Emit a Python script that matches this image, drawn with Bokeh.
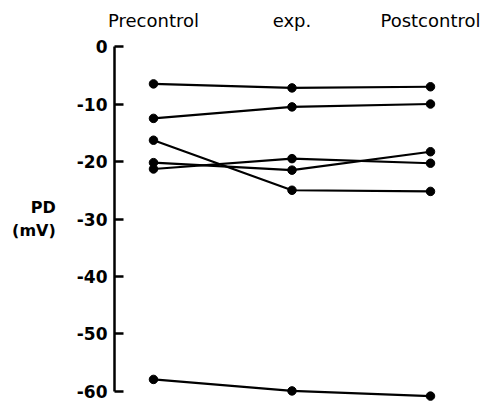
from bokeh.plotting import figure
from bokeh.models import Range1d, FixedTicker, ColumnDataSource
from bokeh.embed import file_html
from bokeh.resources import INLINE

conditions = ["Precontrol", "exp.", "Postcontrol"]
cond_x = [1, 2, 3]
y_ticks = [0, -10, -20, -30, -40, -50, -60]

# PD (mV) per preparation: precontrol, exp., postcontrol
precontrol = [-6.5, -12.5, -16.3, -20.2, -21.3, -57.9]
experiment = [-7.2, -10.5, -25.0, -21.5, -19.5, -59.9]
postcontrol = [-7.0, -10.0, -25.2, -18.3, -20.3, -60.8]

p = figure(width=493, height=401, output_backend="svg", toolbar_location=None,
           x_range=Range1d(0.7184, 3.455), y_range=Range1d(-61.74, 1.74),
           x_axis_location="above", min_border_left=114, min_border_right=0,
           min_border_top=36, min_border_bottom=0)
p.outline_line_color = None
p.grid.visible = False
p.background_fill_color = "white"
p.border_fill_color = "white"

for a, b, c in zip(precontrol, experiment, postcontrol):
    src = ColumnDataSource(dict(x=cond_x, y=[a, b, c]))
    p.line("x", "y", source=src, line_color="black", line_width=2.2)
    p.scatter("x", "y", source=src, size=8.5, fill_color="black", line_color="black")

# y axis
ya = p.yaxis[0]
ya.ticker = FixedTicker(ticks=y_ticks)
ya.major_label_overrides = {t: str(t) for t in y_ticks}
ya.bounds = (-60, 0)
ya.axis_line_width = 2.5
ya.axis_line_color = "black"
ya.major_tick_in = 9
ya.major_tick_out = 0
ya.major_tick_line_width = 2.5
ya.minor_tick_line_color = None
ya.major_label_standoff = 7
ya.major_label_text_font = "DejaVu Sans"
ya.major_label_text_font_style = "bold"
ya.major_label_text_font_size = "17px"
ya.major_label_text_color = "black"
ya.axis_label = "PD\n(mV)"
ya.axis_label_orientation = "horizontal"
ya.axis_label_standoff = 18
ya.axis_label_text_font = "DejaVu Sans"
ya.axis_label_text_font_style = "bold"
ya.axis_label_text_font_size = "16px"
ya.axis_label_text_color = "black"
ya.axis_label_text_align = "center"

# top category axis
xa = p.xaxis[0]
xa.ticker = FixedTicker(ticks=cond_x)
xa.major_label_overrides = {x: t for x, t in zip(cond_x, conditions)}
xa.axis_line_color = None
xa.major_tick_line_color = None
xa.minor_tick_line_color = None
xa.major_label_standoff = 0
xa.major_label_text_font = "DejaVu Sans"
xa.major_label_text_font_size = "18px"
xa.major_label_text_color = "black"

open("out.html", "w").write(file_html(p, INLINE))
